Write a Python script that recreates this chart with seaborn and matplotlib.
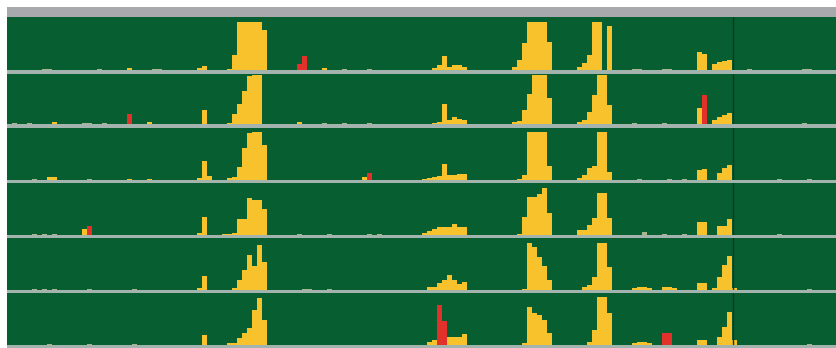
import numpy as np
import seaborn as sns
import matplotlib.pyplot as plt

# -----------------------------
# Data: (bin start, read depth) per track, bins are 5 units wide
# -----------------------------

row1_yellow = [(127, 2), (197, 2), (202, 4), (227, 1), (232, 15), (237, 48), (242, 48), (247, 48),
               (252, 48), (257, 48), (262, 40), (322, 2),
               (432, 2), (437, 5), (442, 14), (447, 3), (452, 5), (457, 5), (462, 3),
               (512, 3), (517, 10), (522, 27), (527, 48), (532, 48), (537, 48), (542, 48), (547, 28),
               (577, 3), (582, 7), (587, 15), (592, 48), (597, 48), (607, 44),
               (697, 18), (702, 16), (712, 6), (717, 8), (722, 9), (727, 10)]
row1_red = [(297, 6), (302, 14)]
row1_low = [(42, 1.5), (47, 1.5), (97, 1.5), (152, 1.5), (157, 1.5), (342, 1.5), (367, 1.5),
            (632, 1.5), (637, 1.5), (662, 1.5), (667, 1.5), (747, 1), (802, 1.5), (807, 1.5)]

row2_yellow = [(52, 2), (147, 2), (202, 14), (227, 1), (232, 10), (237, 20), (242, 33), (247, 48),
               (252, 49), (257, 49), (297, 2),
               (432, 1), (437, 2), (442, 20), (447, 4), (452, 7), (457, 5), (462, 4),
               (512, 2), (517, 3), (522, 14), (527, 30), (532, 49), (537, 49), (542, 49), (547, 26),
               (577, 2), (582, 4), (587, 12), (592, 29), (597, 49), (602, 49), (607, 19),
               (697, 16), (712, 4), (717, 7), (722, 9), (727, 11)]
row2_red = [(127, 10), (702, 29)]
row2_low = [(12, 1), (27, 1), (82, 1.5), (87, 1.5), (102, 1), (322, 1.5), (342, 1.5),
            (367, 1.5), (632, 1.5), (662, 1.5), (802, 1.5)]

row3_yellow = [(47, 3), (52, 3), (127, 1.5), (147, 1.5), (197, 2), (202, 19), (207, 4), (227, 2),
               (232, 3), (237, 13), (242, 32), (247, 47), (252, 48), (257, 48), (262, 35), (362, 3),
               (422, 1), (427, 2), (432, 3), (437, 4), (442, 16), (447, 5), (452, 5), (457, 6), (462, 6),
               (517, 1), (522, 5), (527, 48), (532, 48), (537, 48), (542, 48), (547, 14),
               (577, 2), (582, 5), (587, 12), (592, 14), (597, 48), (602, 48), (607, 8),
               (697, 10), (702, 11), (717, 7), (722, 12), (727, 15)]
row3_red = [(367, 7)]
row3_low = [(32, 1), (87, 1.5), (637, 1.5), (667, 1.5), (682, 1), (777, 1.5), (807, 1.5)]

row4_yellow = [(82, 6), (197, 2), (202, 18), (222, 1), (227, 1.5), (232, 2), (237, 16), (242, 16),
               (247, 37), (252, 35), (257, 35), (262, 26),
               (422, 2), (427, 4), (432, 6), (437, 8), (442, 8), (447, 8), (452, 11), (457, 8), (462, 8),
               (517, 1), (522, 18), (527, 38), (532, 38), (537, 41), (542, 47), (547, 22),
               (577, 5), (582, 5), (587, 10), (592, 17), (597, 42), (602, 42), (607, 17),
               (697, 13), (702, 13), (717, 9), (722, 9), (727, 16)]
row4_red = [(87, 9)]
row4_low = [(32, 1.5), (42, 1.5), (52, 1.5), (297, 1.5), (327, 1.5), (367, 1.5), (377, 1.5),
            (642, 3), (662, 1.5), (682, 1.5), (777, 1.5)]

row5_yellow = [(197, 2), (202, 14), (232, 2), (237, 10), (242, 20), (247, 35), (252, 24), (257, 45),
               (262, 28),
               (427, 3), (432, 3), (437, 7), (442, 10), (447, 15), (452, 10), (457, 6), (462, 8),
               (522, 1), (527, 47), (532, 43), (537, 33), (542, 24), (547, 10),
               (582, 3), (587, 5), (592, 13), (597, 47), (602, 47), (607, 23),
               (632, 2), (637, 3), (642, 3), (647, 2), (662, 3), (667, 3), (672, 2),
               (697, 7), (702, 7), (712, 2), (717, 13), (722, 25), (727, 34), (732, 2)]
row5_red = []
row5_low = [(32, 1.5), (42, 1.5), (52, 1.5), (87, 1.5), (132, 1.5), (302, 1.5), (307, 1.5),
            (327, 1.5), (807, 1.5)]

row6_yellow = [(202, 10), (227, 2), (232, 2), (237, 7), (242, 12), (247, 17), (252, 35), (257, 47),
               (262, 25),
               (427, 3), (432, 5), (447, 8), (452, 8), (457, 8), (462, 11),
               (522, 2), (527, 38), (532, 32), (537, 30), (542, 25), (547, 12),
               (587, 3), (592, 15), (597, 48), (602, 48), (607, 32),
               (632, 2), (637, 3), (642, 3), (647, 2),
               (697, 5), (702, 5), (717, 8), (722, 18), (727, 33), (732, 5)]
row6_red = [(437, 40), (442, 24), (662, 12), (667, 12)]
row6_low = [(47, 1.5), (87, 1.5), (132, 1.5), (807, 1.5)]

tracks = [
    (row1_yellow, row1_red, row1_low),
    (row2_yellow, row2_red, row2_low),
    (row3_yellow, row3_red, row3_low),
    (row4_yellow, row4_red, row4_low),
    (row5_yellow, row5_red, row5_low),
    (row6_yellow, row6_red, row6_low),
]

marker_pos = 733

# -----------------------------
# Layout (pixel rows of each green track)
# -----------------------------

W, H = 837, 348
track_top = [17, 74, 128, 183, 238, 293]
track_bottom = [70, 124, 180, 235, 290, 345]
x0 = 7

GREEN = '#075e31'
YELLOW = '#f8c22c'
RED = '#e2302a'
LOW = '#a9b58a'
BASE = '#a3b4ae'
TOPGRAY = '#a8a9ad'

sns.set_style("white")
fig = plt.figure(figsize=(W / 100, H / 100), dpi=100)
fig.patch.set_facecolor('white')

bins = list(np.arange(2, 842, 5))


def blank(ax):
    ax.set_xticks([])
    ax.set_yticks([])
    ax.set_xlabel('')
    ax.set_ylabel('')
    for s in ax.spines.values():
        s.set_visible(False)


# backdrop gives the grey separator lines between tracks
back = fig.add_axes([x0 / W, 0, (W - x0) / W, (H - 17) / H])
back.set_facecolor(BASE)
blank(back)

top = fig.add_axes([x0 / W, 1 - 17 / H, (W - x0) / W, 10 / H])
top.set_facecolor(TOPGRAY)
blank(top)

for i, (yel, red, low) in enumerate(tracks):
    t, b = track_top[i], track_bottom[i]
    ax = fig.add_axes([x0 / W, 1 - b / H, (W - x0) / W, (b - t) / H])
    ax.set_facecolor(GREEN)

    for series, col in [(low, LOW), (yel, YELLOW), (red, RED)]:
        if not series:
            continue
        pos = [p + 2.5 for p, _ in series]
        val = [v for _, v in series]
        sns.histplot(x=pos, weights=val, bins=bins, color=col, alpha=1,
                     linewidth=0, antialiased=False, ax=ax)

    ax.axvline(marker_pos, color='#0b3a20', lw=1.0)
    ax.set_xlim(x0, W)
    ax.set_ylim(0, b - t)
    blank(ax)

plt.savefig('out.png', dpi=100)
